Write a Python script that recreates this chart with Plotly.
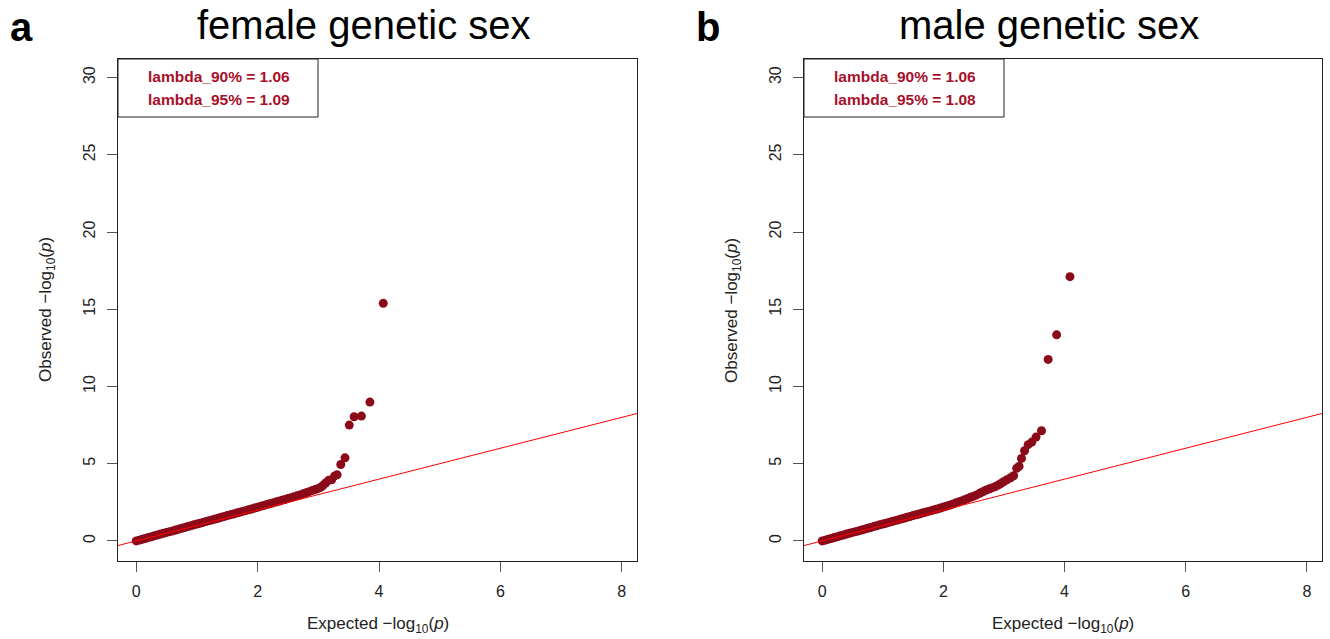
import plotly.graph_objects as go

# ---- QQ data: expected vs observed -log10(p) ----
# female genetic sex
female_bulk_exp = [0.00, 0.05, 0.10, 0.15, 0.20, 0.25, 0.30, 0.35, 0.40, 0.45, 0.50, 0.55, 0.60,
                   0.65, 0.70, 0.75, 0.80, 0.85, 0.90, 0.95, 1.00, 1.05, 1.10, 1.15, 1.20, 1.25,
                   1.30, 1.35, 1.40, 1.45, 1.50, 1.55, 1.60, 1.65, 1.70, 1.75, 1.80, 1.85, 1.90,
                   1.95, 2.00, 2.05, 2.10, 2.15, 2.20, 2.25, 2.30, 2.35, 2.40, 2.45, 2.50, 2.55,
                   2.60, 2.65, 2.70, 2.75, 2.80, 2.85, 2.90, 2.95, 3.00, 3.04]
female_bulk_obs = [0.00, 0.05, 0.11, 0.16, 0.22, 0.27, 0.33, 0.38, 0.44, 0.49, 0.55, 0.60, 0.65,
                   0.71, 0.76, 0.82, 0.87, 0.93, 0.98, 1.04, 1.09, 1.14, 1.20, 1.25, 1.31, 1.36,
                   1.42, 1.47, 1.53, 1.58, 1.64, 1.69, 1.74, 1.80, 1.85, 1.91, 1.96, 2.02, 2.07,
                   2.13, 2.18, 2.24, 2.29, 2.35, 2.40, 2.46, 2.52, 2.57, 2.63, 2.68, 2.74, 2.80,
                   2.86, 2.92, 2.98, 3.05, 3.12, 3.19, 3.26, 3.33, 3.40, 3.47]
female_tail_exp = [3.08, 3.12, 3.17, 3.22, 3.27, 3.31, 3.37, 3.44, 3.51, 3.59, 3.71, 3.85, 4.07]
female_tail_obs = [3.60, 3.75, 3.92, 3.96, 4.21, 4.28, 4.95, 5.38, 7.50, 8.04, 8.08, 8.99, 15.38]

# male genetic sex
male_bulk_exp = [0.00, 0.05, 0.10, 0.15, 0.20, 0.25, 0.30, 0.35, 0.40, 0.45, 0.50, 0.55, 0.60,
                 0.65, 0.70, 0.75, 0.80, 0.85, 0.90, 0.95, 1.00, 1.05, 1.10, 1.15, 1.20, 1.25,
                 1.30, 1.35, 1.40, 1.45, 1.50, 1.55, 1.60, 1.65, 1.70, 1.75, 1.80, 1.85, 1.90,
                 1.95, 2.00, 2.05, 2.10, 2.15, 2.20, 2.25, 2.30, 2.35, 2.40, 2.45, 2.50, 2.55,
                 2.60, 2.65, 2.70, 2.75, 2.80, 2.85, 2.90, 2.95, 3.00]
male_bulk_obs = [0.00, 0.05, 0.11, 0.16, 0.22, 0.27, 0.33, 0.38, 0.44, 0.49, 0.55, 0.60, 0.65,
                 0.71, 0.76, 0.82, 0.87, 0.93, 0.98, 1.04, 1.09, 1.14, 1.20, 1.25, 1.31, 1.36,
                 1.42, 1.47, 1.53, 1.58, 1.64, 1.69, 1.74, 1.80, 1.85, 1.91, 1.96, 2.02, 2.07,
                 2.13, 2.19, 2.25, 2.31, 2.38, 2.45, 2.52, 2.59, 2.66, 2.74, 2.82, 2.90, 2.98,
                 3.08, 3.18, 3.28, 3.36, 3.43, 3.50, 3.60, 3.72, 3.85]
male_tail_exp = [3.05, 3.11, 3.16, 3.21, 3.25, 3.29, 3.34, 3.40, 3.46, 3.53, 3.62, 3.73, 3.87, 4.09]
male_tail_obs = [3.96, 4.09, 4.22, 4.70, 4.83, 5.34, 5.84, 6.23, 6.40, 6.72, 7.13, 11.75, 13.34, 17.11]

panel_titles = ["female genetic sex", "male genetic sex"]
panel_letters = ["a", "b"]
lambda_labels = [["lambda_90% = 1.06", "lambda_95% = 1.09"],
                 ["lambda_90% = 1.06", "lambda_95% = 1.08"]]

x_ticks = [0, 2, 4, 6, 8]
y_ticks = [0, 5, 10, 15, 20, 25, 30]
x_range = [-0.3, 8.25]
y_range = [-1.3, 31.2]

# ---- layout geometry (pixels) ----
W, H = 1330, 639
FONT = "Liberation Sans, Arial, Helvetica, sans-serif"
POINT_COLOR = "#8b0a1a"
TEXT_RED = "#a8102a"


def px(x):
    return x / W


def py(y):
    return 1 - y / H


panels = [
    dict(left=118, right=637, exp=female_bulk_exp + female_tail_exp,
         obs=female_bulk_obs + female_tail_obs),
    dict(left=804, right=1322, exp=male_bulk_exp + male_tail_exp,
         obs=male_bulk_obs + male_tail_obs),
]
top, bottom = 59, 561

fig = go.Figure()
annotations = []
shapes = []

for i, p in enumerate(panels):
    xa = "x" if i == 0 else "x2"
    ya = "y" if i == 0 else "y2"

    # observed vs expected points
    fig.add_trace(go.Scatter(
        x=p["exp"], y=p["obs"], xaxis=xa, yaxis=ya, mode="markers",
        marker=dict(size=9, color=POINT_COLOR, line=dict(width=0)),
        showlegend=False, hoverinfo="skip"))
    # identity reference line y = x
    fig.add_trace(go.Scatter(
        x=x_range, y=x_range, xaxis=xa, yaxis=ya, mode="lines",
        line=dict(color="#ff0000", width=1), showlegend=False, hoverinfo="skip"))

    ax_common = dict(
        showline=True, mirror=True, linecolor="#222", linewidth=1,
        ticks="outside", ticklen=10, tickcolor="#555", tickwidth=1,
        showgrid=False, zeroline=False,
        tickfont=dict(family=FONT, size=16, color="#222"),
    )
    fig.update_layout(**{
        ("xaxis" if i == 0 else "xaxis2"): dict(
            ax_common, domain=[px(p["left"]), px(p["right"])], range=x_range,
            tickvals=x_ticks, anchor=ya, ticklabelstandoff=6),
        ("yaxis" if i == 0 else "yaxis2"): dict(
            ax_common, domain=[py(bottom), py(top)], range=y_range,
            tickvals=y_ticks, anchor=xa, tickangle=-90, ticklabelstandoff=6),
    })

    cx = (p["left"] + p["right"]) / 2
    # panel title and letter
    annotations.append(dict(
        text=panel_titles[i], x=px(cx - 14), y=py(25), xref="paper", yref="paper",
        showarrow=False, xanchor="center", yanchor="middle",
        font=dict(family=FONT, size=40, color="#000")))
    annotations.append(dict(
        text="<b>%s</b>" % panel_letters[i], x=px(p["left"] - 96), y=py(27),
        xref="paper", yref="paper", showarrow=False, xanchor="center", yanchor="middle",
        font=dict(family=FONT, size=40, color="#000")))
    # axis titles
    annotations.append(dict(
        text="Expected \u2212log<sub>10</sub>(<i>p</i>)", x=px(cx), y=py(625),
        xref="paper", yref="paper", showarrow=False, xanchor="center", yanchor="middle",
        font=dict(family=FONT, size=17, color="#222")))
    annotations.append(dict(
        text="Observed \u2212log<sub>10</sub>(<i>p</i>)", x=px(p["left"] - 71),
        y=py((top + bottom) / 2), xref="paper", yref="paper", showarrow=False,
        textangle=-90, xanchor="center", yanchor="middle",
        font=dict(family=FONT, size=17, color="#222")))
    # lambda box
    box_r = p["left"] + 200
    shapes.append(dict(
        type="rect", xref="paper", yref="paper",
        x0=px(p["left"]), x1=px(box_r), y0=py(117), y1=py(top),
        line=dict(color="#222", width=1), fillcolor="rgba(0,0,0,0)"))
    for j, txt in enumerate(lambda_labels[i]):
        annotations.append(dict(
            text="<b>%s</b>" % txt, x=px(p["left"] + 101), y=py(77 + 22 * j),
            xref="paper", yref="paper", showarrow=False,
            xanchor="center", yanchor="middle",
            font=dict(family=FONT, size=15.5, color=TEXT_RED)))

fig.update_layout(
    width=W, height=H, margin=dict(l=0, r=0, t=0, b=0),
    paper_bgcolor="white", plot_bgcolor="white",
    font=dict(family=FONT),
    annotations=annotations, shapes=shapes,
)

fig.write_html("out.html")
